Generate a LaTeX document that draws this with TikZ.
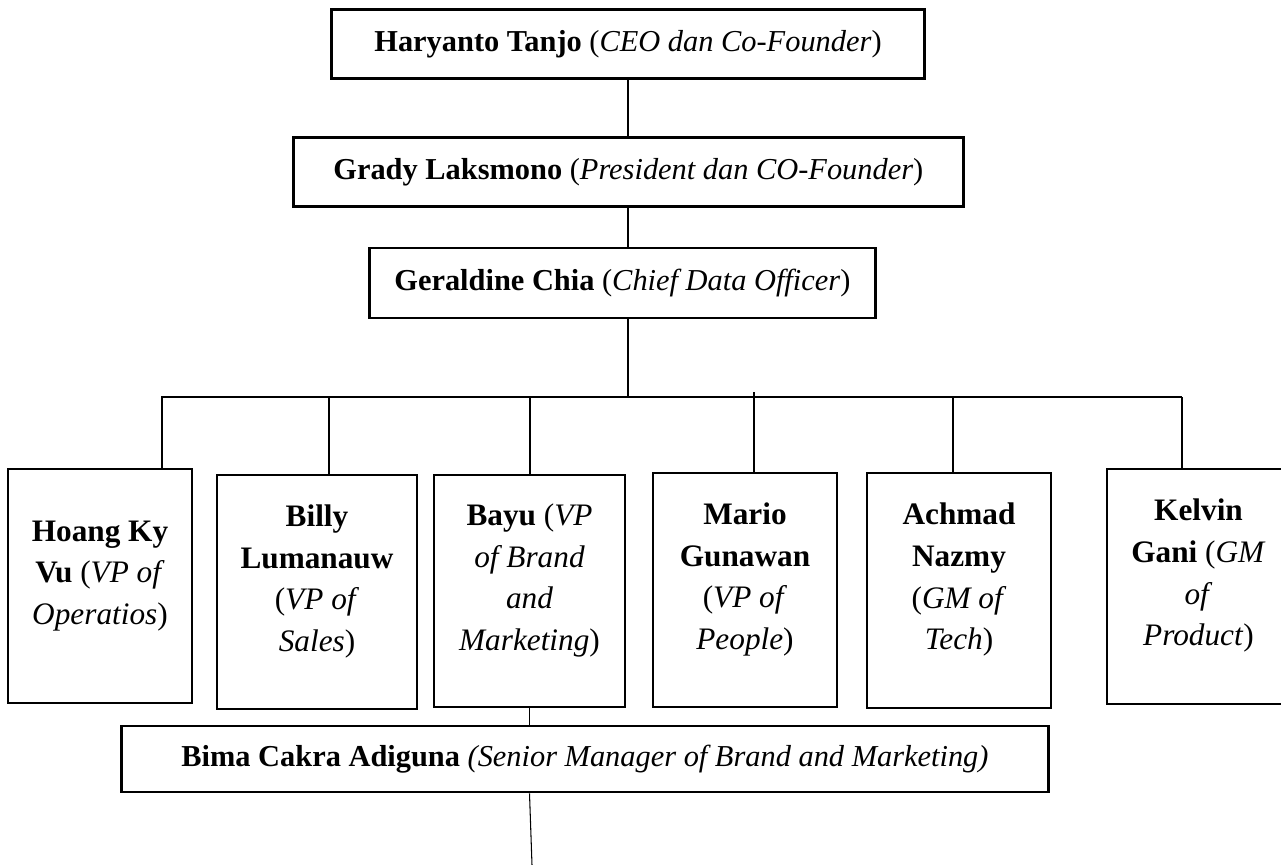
\documentclass[tikz,border=0pt]{standalone}
\usepackage{fontspec}
\setmainfont{Liberation Serif}

% lines of a VP box, sitting a little above the middle
\newcommand{\vplines}[1]{\raisebox{0.23cm}[\height][\depth]{\begin{tabular}{@{}c@{}}#1\end{tabular}}}

\begin{document}
\begin{tikzpicture}[x=0.02cm,y=-0.02cm]
  \tikzstyle{headbox}=[draw,line width=1.6pt,anchor=west,minimum height=1.38cm,inner ysep=0pt,font=\fontsize{17.3}{22}\selectfont]
  \tikzstyle{vpbox}=[draw,line width=1.6pt,minimum height=4.68cm,inner sep=0pt,font=\fontsize{17.8}{23.7}\selectfont]
  \tikzstyle{link}=[line width=0.6pt]

  \useasboundingbox (0,0) rectangle (1281,865);

  % top of the chart
  \node[headbox,inner xsep=0.86cm] (ceo) at (330,44) {\textbf{Haryanto Tanjo} (\textit{CEO dan Co-Founder})};
  \node[headbox,inner xsep=0.8cm] (pres) at (292,172) {\textbf{Grady Laksmono} (\textit{President dan CO-Founder})};
  \node[headbox,inner xsep=0.5cm,minimum height=1.4cm] (cdo) at (368,283) {\textbf{Geraldine Chia} (\textit{Chief Data Officer})};

  % VP / GM row
  \node[vpbox,minimum width=3.68cm] (hoang) at (100,586) {\vplines{\textbf{Hoang Ky}\\\textbf{Vu} (\textit{VP of}\\\textit{Operatios})}};
  \node[vpbox,minimum width=4.0cm] (billy) at (317,592) {\vplines{\textbf{Billy}\\\textbf{Lumanauw}\\(\textit{VP of}\\\textit{Sales})}};
  \node[vpbox,minimum width=3.82cm,minimum height=4.64cm] (bayu) at (529.5,591) {\vplines{\textbf{Bayu} (\textit{VP}\\\textit{of Brand}\\\textit{and}\\\textit{Marketing})}};
  \node[vpbox,minimum width=3.68cm] (mario) at (745,590) {\vplines{\textbf{Mario}\\\textbf{Gunawan}\\(\textit{VP of}\\\textit{People})}};
  \node[vpbox,minimum width=3.68cm,minimum height=4.7cm] (achmad) at (959,590.5) {\vplines{\textbf{Achmad}\\\textbf{Nazmy}\\(\textit{GM of}\\\textit{Tech})}};
  \node[vpbox,minimum width=3.66cm,minimum height=4.7cm] (kelvin) at (1198.5,586.5) {\vplines{\textbf{Kelvin}\\\textbf{Gani} (\textit{GM}\\\textit{of}\\\textit{Product})}};

  \node[headbox,inner xsep=1.2cm,minimum height=1.32cm] (bima) at (120,759) {\textbf{Bima Cakra Adiguna} \textit{(Senior Manager of Brand and Marketing)}};

  % spine through the top three boxes
  \coordinate (spine) at (628,0);
  \draw[link] (spine |- ceo.south) -- (spine |- pres.north);
  \draw[link] (spine |- pres.south) -- (spine |- cdo.north);

  % bus line under the CDO
  \coordinate (busleft) at (161,397);
  \coordinate (busright) at (1182,397);
  \draw[link] (spine |- cdo.south) -- (spine |- busleft);
  \draw[link] (busleft) -- (busright);
  \foreach \n/\x/\y in {hoang/162/397,billy/329/397,bayu/530/397,mario/754/392,achmad/953/397,kelvin/1182/397}
    \draw[link] (\x,\y) coordinate (drop\n) -- (drop\n |- \n.north);

  \draw[link] (bayu.south) -- (bayu.south |- bima.north);
  \coordinate (tail) at (532,865);
  \draw[link] (bayu.south |- bima.south) -- (tail);
\end{tikzpicture}
\end{document}
